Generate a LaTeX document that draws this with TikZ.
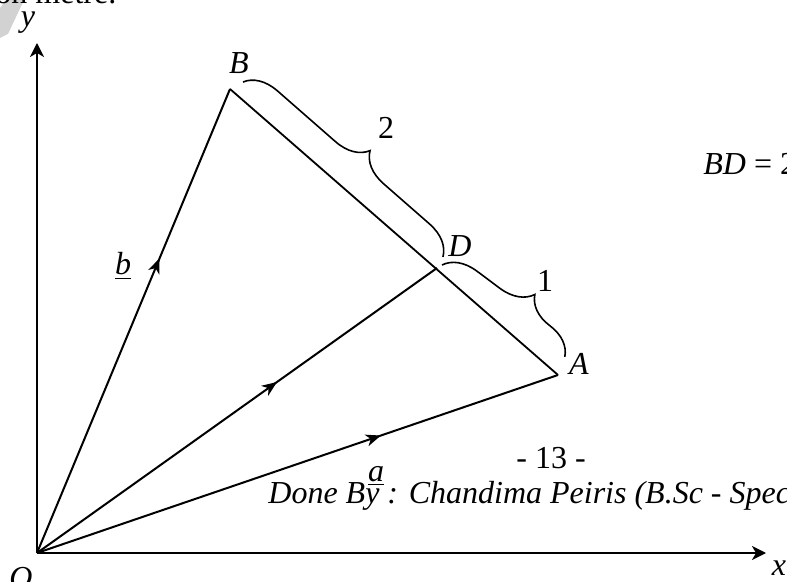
\documentclass[tikz,border=0pt]{standalone}
\usepackage{fontspec}
\setmainfont{Liberation Serif}
\usepackage{tikz}
\usetikzlibrary{arrows.meta,positioning,decorations.markings,decorations.pathreplacing}

\begin{document}
\begin{tikzpicture}[x=0.5pt,y=-0.5pt,>={Stealth[length=7pt,width=7pt,inset=2pt]},
  lbl/.style={font=\fontsize{16}{19}\selectfont,inner sep=0pt},
  axis/.style={->,line width=1pt,draw=black},
  vec/.style={line width=1pt,draw=black,postaction={decorate},
    decoration={markings,mark=at position #1 with {\arrow{Stealth[length=7.5pt,width=6pt,inset=2.2pt]}}}},
  side/.style={line width=.9pt,draw=black},
  brc/.style={line width=.8pt,draw=black,decorate,decoration={brace,amplitude=16pt,aspect=#1}}]
\clip (0,0) rectangle (787,582);
\fill[gray!35] (0,8) -- (6,0) -- (24,0) -- (8,34) -- (0,38) -- cycle;
\node[lbl,anchor=base west] (hdr) at (-5,4) {on metre.};
% points
\coordinate (O) at (37,553);
\coordinate (B) at (230,89);
\coordinate (A) at (558,375);
\coordinate (D) at (437,268);
\coordinate (yend) at (37,43);
\coordinate (xend) at (766,553);
% axes
\draw[axis] (O) -- (yend);
\draw[axis] (O) -- (xend);
\node[lbl] (ly) at (28,23) {\textit{y}};
\node[lbl] (lx) at (779,568) {\textit{x}};
% vectors
\draw[vec=0.635] (O) -- (B);
\draw[vec=0.6] (O) -- (D);
\draw[vec=0.66] (O) -- (A);
\draw[side] (B) -- (A);
\node[lbl] (lO) at (21,578) {\textit{O}};
\node[lbl] (lB) at (239,63) {\textit{B}};
\node[lbl] (lD) at (460,246) {\textit{D}};
\node[lbl] (lA) at (579,364) {\textit{A}};
\node[lbl] (lb) at (123,266) {\underline{\textit{b}}};
\node[lbl] (la) at (376,476) {\underline{\textit{a}}};
% braces
\coordinate (b2s) at (243,82);
\coordinate (b2e) at (443,257);
\coordinate (b1s) at (442,265);
\coordinate (b1e) at (565,357);
\draw[brc=0.53] (b2s) -- (b2e);
\draw[brc=0.6] (b1s) -- (b1e);
\node[lbl] (two) at (386,128) {2};
\node[lbl] (one) at (545,281) {1};
% text
\node[lbl,anchor=base west] (bd) at (703,175) {\textit{BD} = 2};
\node[lbl,anchor=base] (pg) at (551,468) {- 13 -};
\node[lbl,anchor=base west] (done) at (268,503) {\textit{Done By : Chandima Peiris (B.Sc - Spec}};
\end{tikzpicture}
\end{document}
